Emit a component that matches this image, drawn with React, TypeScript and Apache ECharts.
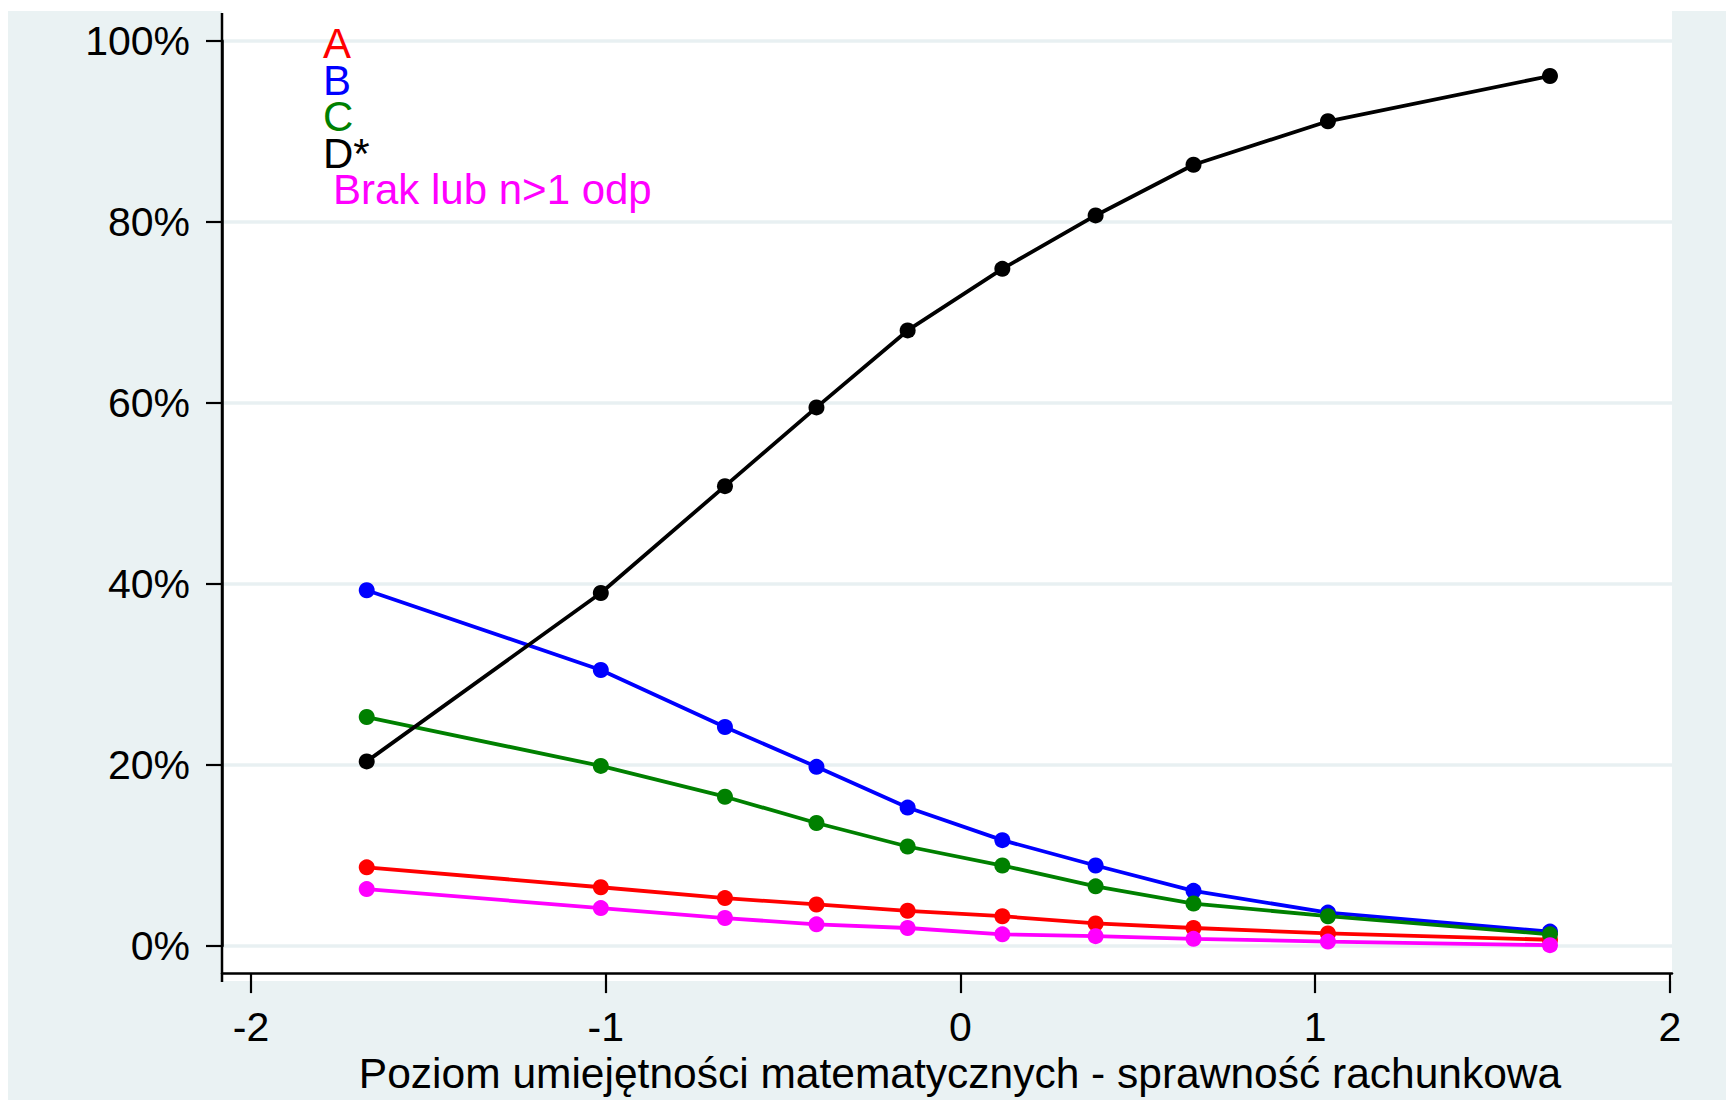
import React, { useEffect, useRef } from "react";
import * as echarts from "echarts";

const xValues = [-1.674, -1.014, -0.664, -0.406, -0.149, 0.118, 0.381, 0.657, 1.036, 1.662];
const seriesA = [8.7, 6.5, 5.3, 4.6, 3.9, 3.3, 2.5, 2.0, 1.4, 0.7];
const seriesB = [39.3, 30.5, 24.2, 19.8, 15.3, 11.7, 8.9, 6.1, 3.7, 1.6];
const seriesC = [25.3, 19.9, 16.5, 13.6, 11.0, 8.9, 6.6, 4.7, 3.3, 1.3];
const seriesD = [20.4, 39.0, 50.8, 59.5, 68.0, 74.8, 80.7, 86.3, 91.1, 96.1];
const seriesBrak = [6.3, 4.2, 3.1, 2.4, 2.0, 1.3, 1.1, 0.8, 0.5, 0.1];

const seriesNames = ["A", "B", "C", "D*", "Brak lub n>1 odp"];
const seriesColors = ["#ff0000", "#0000ff", "#008000", "#000000", "#ff00ff"];
const seriesValues = [seriesA, seriesB, seriesC, seriesD, seriesBrak];

const xTickValues = [-2, -1, 0, 1, 2];
const xAxisTitle = "Poziom umiejętności matematycznych - sprawność rachunkowa";

const FONT = "'Liberation Sans', Arial, sans-serif";

export default function App() {
  const ref = useRef<HTMLDivElement>(null);

  useEffect(() => {
    document.body.style.margin = "0";
    if (!ref.current) return;
    const chart = echarts.init(ref.current, null, { renderer: "svg" });

    const series = seriesValues.map((vals, i) => ({
      name: seriesNames[i],
      type: "line",
      data: vals.map((v, j) => [xValues[j], v]),
      symbol: "circle",
      symbolSize: 16,
      lineStyle: { color: seriesColors[i], width: 3.8 },
      itemStyle: { color: seriesColors[i] },
      emphasis: { disabled: true },
    }));

    const rich: Record<string, any> = {};
    seriesNames.forEach((_, i) => {
      rich["s" + i] = {
        fill: seriesColors[i],
        fontSize: 42,
        fontFamily: FONT,
        lineHeight: 36.5,
        padding: i === 4 ? [0, 0, 0, 10] : [0, 0, 0, 0],
      };
    });
    const legendText = seriesNames.map((n, i) => `{s${i}|${n}}`).join("\n");

    chart.setOption({
      animation: false,
      backgroundColor: "#ffffff",
      textStyle: { fontFamily: FONT },
      graphic: {
        elements: [
          {
            type: "rect",
            z: -20,
            shape: { x: 8, y: 11, width: 1718, height: 1089 },
            style: { fill: "#eaf2f3" },
            silent: true,
          },
          {
            type: "rect",
            z: -10,
            shape: { x: 222, y: 0, width: 1450, height: 981 },
            style: { fill: "#ffffff" },
            silent: true,
          },
          {
            type: "line",
            z: 100,
            shape: { x1: 222, y1: 13, x2: 222, y2: 982 },
            style: { stroke: "#000000", lineWidth: 2.5 },
            silent: true,
          },
          {
            type: "text",
            z: 50,
            x: 323,
            y: 25.5,
            silent: true,
            style: {
              text: legendText,
              rich,
              fontSize: 42,
              fontFamily: FONT,
              lineHeight: 36.5,
              align: "left",
              verticalAlign: "top",
            },
          },
        ],
      },
      grid: { left: 222, right: 54, top: 40.7, bottom: 146.3, containLabel: false },
      xAxis: {
        type: "value",
        min: -2.082,
        max: 2.006,
        position: "bottom",
        offset: 27,
        name: xAxisTitle,
        nameLocation: "middle",
        nameGap: 74,
        nameTextStyle: { fontSize: 42.5, color: "#000", fontFamily: FONT, padding: [0, 0, 0, 26] },
        axisLine: { show: true, onZero: false, lineStyle: { color: "#000", width: 2.5 } },
        axisTick: {
          show: true,
          length: 20,
          customValues: xTickValues,
          lineStyle: { color: "#000", width: 2.2 },
        },
        axisLabel: {
          customValues: xTickValues,
          fontSize: 41,
          color: "#000",
          margin: 33,
          fontFamily: FONT,
          formatter: (v: number) => String(v),
        },
        splitLine: { show: false },
      },
      yAxis: {
        type: "value",
        min: 0,
        max: 100,
        interval: 20,
        position: "left",
        axisLine: { show: true, onZero: false, lineStyle: { color: "#000", width: 2.5 } },
        axisTick: { show: true, length: 16, lineStyle: { color: "#000", width: 2.2 } },
        axisLabel: {
          fontSize: 41,
          color: "#000",
          margin: 32,
          fontFamily: FONT,
          padding: [7, 0, 0, 0],
          formatter: "{value}%",
        },
        splitLine: { show: true, lineStyle: { color: "#e8f0f2", width: 3.5 } },
      },
      series,
    });

    return () => chart.dispose();
  }, []);

  return <div ref={ref} style={{ width: 1726, height: 1100, overflow: "hidden" }} />;
}
